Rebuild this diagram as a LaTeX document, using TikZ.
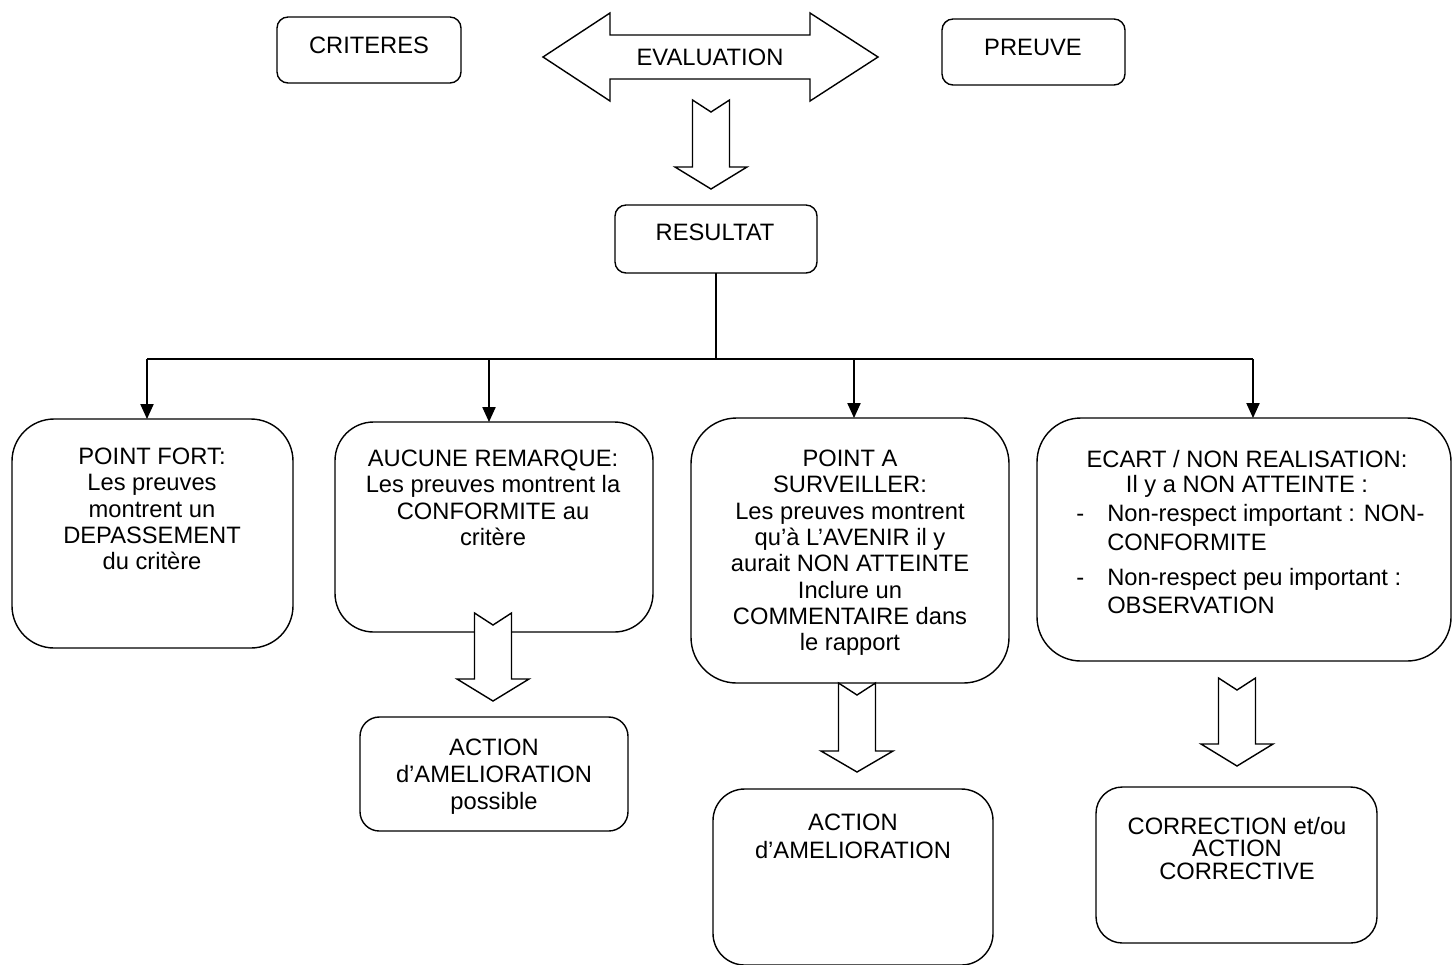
\documentclass[tikz,border=0pt]{standalone}
\usepackage{fontspec}
\setmainfont{Liberation Sans}
\usetikzlibrary{arrows.meta}
% rounded box node from corner coordinates (px): name, x1, y1, x2, y2, radius (pt)
\newcommand{\mybox}[6]{%
  \node[box, rounded corners=#6, minimum width={(#4-#2)*0.02cm}, minimum height={(#5-#3)*0.02cm}] (#1) at ({(#2+#4)/2},{(#3+#5)/2}) {};}
% block arrow pointing down: centre x, top y, head base y, tip y
\newcommand{\downblock}[4]{%
  \draw[blockarrow] (#1-18.5,#2) -- (#1,#2+12) -- (#1+18.5,#2) -- (#1+18.5,#3) -- (#1+36,#3) -- (#1,#4) -- (#1-36,#3) -- (#1-18.5,#3) -- cycle;}
\begin{document}
\begin{tikzpicture}[x=0.02cm, y=-0.02cm,
  box/.style={draw, line width=0.8pt, fill=white, inner sep=0pt, outer sep=0pt},
  txt/.style={font=\fontsize{13.5}{15}\selectfont, align=center, inner sep=0pt, anchor=north},
  conn/.style={line width=0.8pt, -{Triangle[length=8.5pt,width=7.5pt]}},
  plain/.style={line width=0.8pt},
  blockarrow/.style={draw, line width=0.8pt, fill=white, line join=miter}]
\useasboundingbox (0,0) rectangle (1452,964);

% top row
\mybox{crit}{277}{17}{461}{83}{6.3pt}
\mybox{pre}{942}{19}{1125}{85}{6.3pt}
\draw[blockarrow] (543,57) -- (610,13) -- (610,35) -- (810,35) -- (810,13) -- (878,57)
  -- (810,101) -- (810,79) -- (610,79) -- (610,101) -- cycle;
\node[txt] (critT) at (369,36.5) {CRITERES};
\node[txt] (evalT) at (710,48.5) {EVALUATION};
\node[txt] (preT) at (1033,38.5) {PREUVE};

% result
\mybox{res}{615}{205}{817}{273}{6.3pt}
\node[txt] (resT) at (715,223.5) {RESULTAT};

% main boxes
\mybox{pf}{12}{419}{293}{648}{24pt}
\mybox{ar}{335}{422}{653}{632}{22pt}
\mybox{ps}{691}{418}{1009}{683}{26pt}
\mybox{ec}{1037}{418}{1451}{661}{25pt}

% lower boxes
\mybox{ap}{360}{717}{628}{831}{11pt}
\mybox{aa}{713}{789}{993}{965}{18pt}
\mybox{cor}{1096}{787}{1377}{943}{15pt}

% block arrows
\downblock{711}{100}{167}{189}
\downblock{493}{613}{679}{701}
\downblock{857}{683}{751}{772}
\downblock{1237}{678}{744}{766}

% connectors
\coordinate (j) at (716,359);
\coordinate (jl) at (147,359);
\coordinate (j2) at (489,359);
\coordinate (j3) at (854,359);
\coordinate (jr) at (1253,359);
\draw[plain] (res.south) -- (res.south |- j);
\draw[plain] (jl) -- (jr);
\draw[conn] (jl) -- (jl |- pf.north);
\draw[conn] (j2) -- (j2 |- ar.north);
\draw[conn] (j3) -- (j3 |- ps.north);
\draw[conn] (jr) -- (jr |- ec.north);

% texts
\node[txt] (pfT) at (152,447.5) {POINT FORT:\\Les preuves\\montrent un\\DEPASSEMENT\\du critère};
\node[txt] (arT) at (493,449.5) {AUCUNE REMARQUE:\\Les preuves montrent la\\CONFORMITE au\\critère};
\node[txt] (psT) at (850,449.5) {POINT A\\SURVEILLER:\\Les preuves montrent\\qu’à L’AVENIR il y\\aurait NON ATTEINTE\\Inclure un\\COMMENTAIRE dans\\le rapport};
\node[txt, font=\fontsize{13.5}{14.2}\selectfont] (ecT) at (1247,449.5) {ECART / NON REALISATION:\\Il y a NON ATTEINTE :};
\node[txt, anchor=north west, align=left, font=\fontsize{13.5}{16.5}\selectfont] (ecL) at (1076,503.5)
  {\makebox[17.6pt][l]{-}Non-respect important : NON-\\\hspace*{17.6pt}CONFORMITE\\[3.4pt]\makebox[17.6pt][l]{-}Non-respect peu important :\\\hspace*{17.6pt}OBSERVATION};
\node[txt, font=\fontsize{13.5}{15.5}\selectfont] (apT) at (494,738.5) {ACTION\\d’AMELIORATION\\possible};
\node[txt, font=\fontsize{13.5}{15.8}\selectfont] (aaT) at (853,813.5) {ACTION\\d’AMELIORATION};
\node[txt, font=\fontsize{13.5}{12.8}\selectfont] (corT) at (1237,816.5) {CORRECTION et/ou\\ACTION\\CORRECTIVE};
\end{tikzpicture}
\end{document}
